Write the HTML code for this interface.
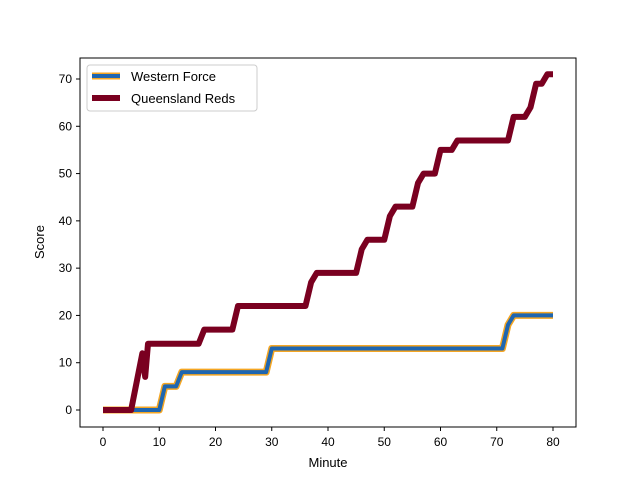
<!DOCTYPE html>
<html><head><meta charset="utf-8"><style>body{margin:0;background:#fff}svg{font-family:"Liberation Sans","DejaVu Sans",sans-serif}</style></head>
<body>
<svg width="640" height="480" xmlns="http://www.w3.org/2000/svg">
<rect x="0" y="0" width="640" height="480" fill="#fff"/>
<g id="plot"></g>
<rect x="80" y="58" width="496" height="369" fill="none" stroke="#000" stroke-width="1"/>
<g id="xt"></g><g id="yt"></g>
<text x="328" y="467" text-anchor="middle" font-size="13">Minute</text>
<text x="44" y="242" text-anchor="middle" font-size="13" transform="rotate(-90 44 242)">Score</text>
<g>
<rect x="87" y="65" width="170" height="46" rx="3" fill="#fff" fill-opacity="0.8" stroke="#ccc"/>
<g>
<line x1="92" y1="76" x2="120" y2="76" stroke="#f5a623" stroke-width="7"/>
<line x1="92" y1="76" x2="120" y2="76" stroke="#1f66b0" stroke-width="4"/>
<text x="131" y="81" font-size="13">Western Force</text></g>
<g>
<line x1="92" y1="98" x2="120" y2="98" stroke="#7a0020" stroke-width="6"/>
<text x="131" y="103" font-size="13">Queensland Reds</text></g>
</g>
</svg>
<script>
const forceMin=[0,10,11,13,14,29,30,71,72,73,80];
const forceScore=[0,0,5,5,8,8,13,13,18,20,20];
const redsMin=[0,5,7,7.5,8,17,18,23,24,36,37,38,45,46,47,50,51,52,55,56,57,59,60,62,63,72,73,75,76,77,78,79,80];
const redsScore=[0,0,12,7,14,14,17,17,22,22,27,29,29,34,36,36,41,43,43,48,50,50,55,55,57,57,62,62,64,69,69,71,71];
const xTicks=[0,10,20,30,40,50,60,70,80];
const yTicks=[0,10,20,30,40,50,60,70];
const NS="http://www.w3.org/2000/svg";
const X=m=>103+m*5.625, Y=v=>410-v*331/70;
const plot=document.getElementById('plot');
function poly(xs,ys,col,w,name){const p=document.createElementNS(NS,'polyline');
p.setAttribute('points',xs.map((m,i)=>X(m)+','+Y(ys[i])).join(' '));
p.setAttribute('fill','none');p.setAttribute('stroke',col);p.setAttribute('stroke-width',w);p.setAttribute('stroke-linejoin','round');


plot.appendChild(p);}
poly(forceMin,forceScore,'#f5a623',7,'western-force-outline');
poly(forceMin,forceScore,'#1f66b0',4,'western-force-line');
poly(redsMin,redsScore,'#7a0020',6,'queensland-reds-line');
const xt=document.getElementById('xt'),yt=document.getElementById('yt');
xTicks.forEach(t=>{const g=document.createElementNS(NS,'g');


g.innerHTML=`<line x1="${X(t)}" y1="427" x2="${X(t)}" y2="431" stroke="#000"/><text x="${X(t)}" y="446" font-size="12" text-anchor="middle">${t}</text>`;xt.appendChild(g);});
yTicks.forEach(t=>{const g=document.createElementNS(NS,'g');


g.innerHTML=`<line x1="76" y1="${Y(t)}" x2="80" y2="${Y(t)}" stroke="#000"/><text x="72" y="${Y(t)+4}" font-size="12" text-anchor="end">${t}</text>`;yt.appendChild(g);});
</script>
</body></html>
